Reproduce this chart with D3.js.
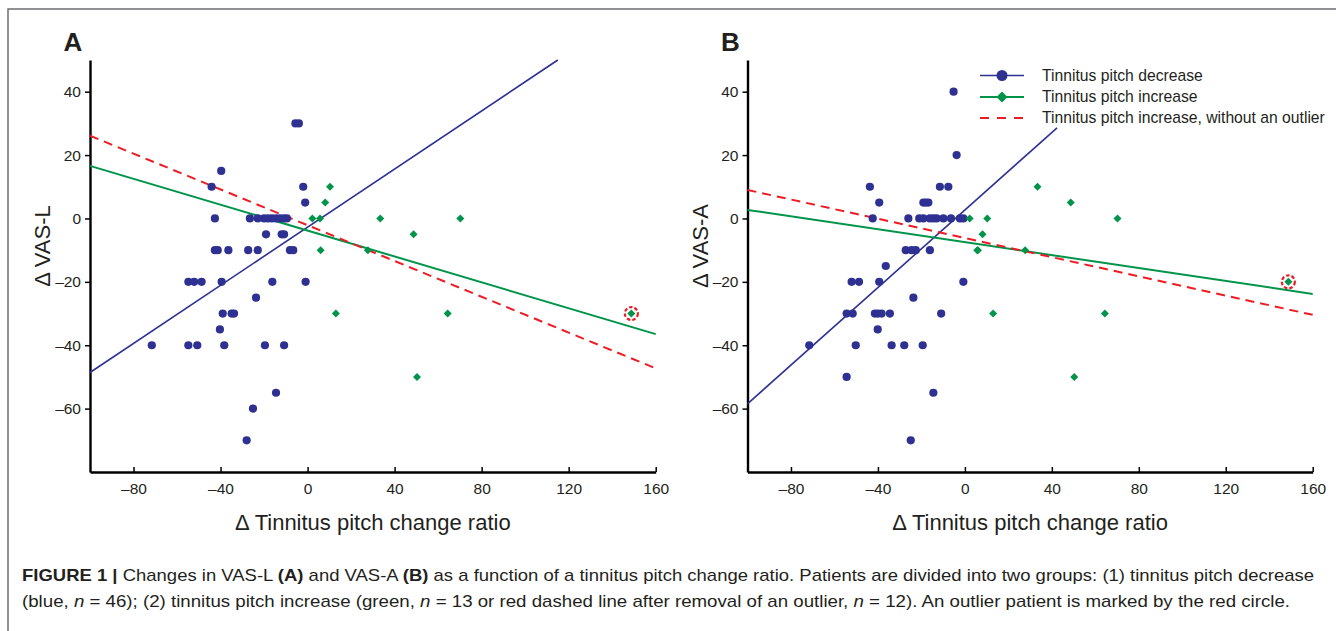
<!DOCTYPE html>
<html>
<head>
<meta charset="utf-8">
<script src="https://cdn.jsdelivr.net/npm/d3@7"></script>
<style>
  html, body { margin: 0; padding: 0; background: #fff; }
  svg { display: block; }
</style>
</head>
<body>
<svg id="chart" width="1336" height="631"></svg>
<script>
// ---------------- DATA ----------------
const xTicks = [-80, -40, 0, 40, 80, 120, 160];
const yTicks = [-60, -40, -20, 0, 20, 40];
const xDomain = [-100, 160];
const yDomain = [-80, 50];

// Panel A (VAS-L), tinnitus pitch decrease group
const blueAx = [-5.6, -4.0, -39.7, -44.1, -2.0, -1.1,
  -42.6, -26.5, -22.9, -20.0, -18.2, -16.4, -14.5, -12.7, -10.9, -9.5,
  -19.1, -11.9, -10.8,
  -42.6, -41.3, -36.4, -27.3, -22.9, -8.1, -6.6,
  -54.8, -52.1, -48.7, -39.5, -16.2, -0.9,
  -23.7, -39.0, -34.9, -33.8, -40.3,
  -71.6, -54.8, -50.7, -38.3, -19.6, -10.8,
  -14.5, -25.1, -28.0];
const blueAy = [30, 30, 15, 10, 10, 5,
  0, 0, 0, 0, 0, 0, 0, 0, 0, 0,
  -5, -5, -5,
  -10, -10, -10, -10, -10, -10, -10,
  -20, -20, -20, -20, -20, -20,
  -25, -30, -30, -30, -35,
  -40, -40, -40, -40, -40, -40,
  -55, -60, -70];

// Panel B (VAS-A), tinnitus pitch decrease group
const blueBx = [-5.2, -3.8, -43.7, -11.5, -7.6,
  -39.4, -19.1, -16.8, -18.0,
  -42.4, -26.0, -21.0, -19.1, -16.1, -14.5, -13.0, -9.9, -6.4, -2.3, -0.7,
  -27.2, -24.5, -22.6, -16.1,
  -36.4, -52.1, -48.7, -39.4, -0.7, -23.7,
  -54.4, -51.6, -41.4, -40.0, -38.3, -34.5, -10.9,
  -40.1, -71.6, -50.2, -33.7, -27.9, -19.4,
  -54.4, -14.5, -24.9];
const blueBy = [40, 20, 10, 10, 10,
  5, 5, 5, 5,
  0, 0, 0, 0, 0, 0, 0, 0, 0, 0, 0,
  -10, -10, -10, -10,
  -15, -20, -20, -20, -20, -25,
  -30, -30, -30, -30, -30, -30, -30,
  -35, -40, -40, -40, -40, -40,
  -50, -55, -70];

// Tinnitus pitch increase group (same patients in both panels)
const greenX  = [2.2, 5.7, 6.0, 8.1, 10.3, 13.0, 27.7, 33.4, 48.7, 50.3, 64.4, 70.2, 148.8];
const greenAy = [0, 0, -10, 5, 10, -30, -10, 0, -5, -50, -30, 0, -30];
const greenBy = [0, -10, -10, -5, 0, -30, -10, 10, 5, -50, -30, 0, -20];
const outlierIndex = 12;

// Regression lines [x0, x1] -> [y0, y1]
const lineA_blueX = [-100, 115],   lineA_blueY = [-48.6, 50];
const lineA_greenX = [-100, 160],  lineA_greenY = [16.6, -36.5];
const lineA_redX = [-100, 160],    lineA_redY = [26.1, -47.3];
const lineB_blueX = [-100, 42.4],  lineB_blueY = [-58.5, 28.6];
const lineB_greenX = [-100, 160],  lineB_greenY = [2.7, -23.8];
const lineB_redX = [-100, 160],    lineB_redY = [9.0, -30.4];

const legendLabels = ["Tinnitus pitch decrease", "Tinnitus pitch increase", "Tinnitus pitch increase, without an outlier"];
const yTitles = ["\u0394 VAS-L", "\u0394 VAS-A"];
const xTitle = "\u0394 Tinnitus pitch change ratio";
const panelLetters = ["A", "B"];

// ---------------- STYLE ----------------
const BLUE = "#2e3192", GREEN = "#00944a", RED = "#ed1c24", INK = "#231f20";
const FONT = "'Liberation Sans', Arial, Helvetica, sans-serif";
const NARROW = "'Liberation Sans Narrow', 'Arial Narrow', 'Liberation Sans', sans-serif";

const svg = d3.select("#chart");

// outer frame
svg.append("path").attr("d", "M8,631 L8,9 L1336,9")
  .attr("fill", "none").attr("stroke", "#6d6e71").attr("stroke-width", 1.5);

const fmt = d => (d < 0 ? "\u2013" + Math.abs(d) : String(d));

const panels = [
  { left: 90, right: 655.7, bx: blueAx, by: blueAy, gy: greenAy,
    lines: [[lineA_blueX, lineA_blueY, BLUE, 1.6, null],
            [lineA_greenX, lineA_greenY, GREEN, 2, null],
            [lineA_redX, lineA_redY, RED, 2, "9,6"]] },
  { left: 747.5, right: 1312.7, bx: blueBx, by: blueBy, gy: greenBy,
    lines: [[lineB_blueX, lineB_blueY, BLUE, 1.6, null],
            [lineB_greenX, lineB_greenY, GREEN, 2, null],
            [lineB_redX, lineB_redY, RED, 2, "9,6"]] }
];
const plotTop = 60, plotBottom = 472;

panels.forEach((p, i) => {
  const x = d3.scaleLinear().domain(xDomain).range([p.left, p.right]);
  const y = d3.scaleLinear().domain(yDomain).range([plotBottom, plotTop]);
  const g = svg.append("g");

  // y axis
  const ya = g.append("g").attr("transform", `translate(${p.left},0)`)
    .call(d3.axisLeft(y).tickValues(yTicks).tickSize(5).tickSizeOuter(0).tickPadding(4).tickFormat(fmt));
  ya.select(".domain").attr("stroke", "#000").attr("stroke-width", 2.4);
  ya.selectAll(".tick line").attr("stroke", "#000").attr("stroke-width", 1.5);
  ya.selectAll(".tick text").attr("font-family", FONT).attr("font-size", 15.5).attr("fill", INK);

  // x axis (ticks pointing inward)
  const xa = g.append("g").attr("transform", `translate(0,${plotBottom})`)
    .call(d3.axisBottom(x).tickValues(xTicks).tickSize(0).tickSizeOuter(0).tickPadding(11).tickFormat(fmt));
  xa.select(".domain").attr("stroke", "#000").attr("stroke-width", 2.4);
  xa.selectAll(".tick line").attr("y2", -5).attr("stroke", "#000").attr("stroke-width", 1.5);
  xa.selectAll(".tick text").attr("font-family", FONT).attr("font-size", 15.5).attr("fill", INK);

  // titles
  g.append("text").attr("x", (p.left + p.right) / 2).attr("y", 530)
    .attr("text-anchor", "middle").attr("font-family", FONT).attr("font-size", 22)
    .attr("fill", INK).text(xTitle);
  g.append("text").attr("transform", `translate(${p.left - 40},${246}) rotate(-90)`)
    .attr("text-anchor", "middle").attr("font-family", FONT).attr("font-size", 22)
    .attr("fill", INK).text(yTitles[i]);
  g.append("text").attr("x", p.left - 17).attr("y", 51)
    .attr("text-anchor", "middle").attr("font-family", NARROW).attr("font-weight", "bold")
    .attr("font-size", 26).attr("fill", INK).text(panelLetters[i]);

  // lines
  p.lines.forEach(([lx, ly, col, w, dash]) => {
    const pts = lx.map((v, k) => [x(v), y(ly[k])]);
    const l = g.append("path").attr("d", d3.line()(pts))
      .attr("fill", "none").attr("stroke", col).attr("stroke-width", w);
    if (dash) l.attr("stroke-dasharray", dash);
  });

  // blue points
  g.append("g").selectAll("circle").data(p.bx.map((v, k) => [v, p.by[k]])).join("circle")
    .attr("cx", d => x(d[0])).attr("cy", d => y(d[1])).attr("r", 4.1).attr("fill", BLUE);

  // green diamonds
  const dia = 4;
  g.append("g").selectAll("path").data(greenX.map((v, k) => [v, p.gy[k]])).join("path")
    .attr("d", d => { const cx = x(d[0]), cy = y(d[1]);
      return `M${cx},${cy - dia}L${cx + dia},${cy}L${cx},${cy + dia}L${cx - dia},${cy}Z`; })
    .attr("fill", GREEN);

  // outlier marker
  g.append("circle").attr("cx", x(greenX[outlierIndex])).attr("cy", y(p.gy[outlierIndex]))
    .attr("r", 6.5).attr("fill", "none").attr("stroke", RED).attr("stroke-width", 2.2)
    .attr("stroke-dasharray", "3.5,2");
});

// legend
const lg = svg.append("g");
const lgY = [75.5, 97, 118];
const lgX0 = 980, lgX1 = 1024, lgT = 1042;
lg.append("line").attr("x1", lgX0).attr("x2", lgX1).attr("y1", lgY[0]).attr("y2", lgY[0]).attr("stroke", BLUE).attr("stroke-width", 1.6);
lg.append("circle").attr("cx", (lgX0 + lgX1) / 2).attr("cy", lgY[0]).attr("r", 5.5).attr("fill", BLUE);
lg.append("line").attr("x1", lgX0).attr("x2", lgX1).attr("y1", lgY[1]).attr("y2", lgY[1]).attr("stroke", GREEN).attr("stroke-width", 2);
{ const cx = (lgX0 + lgX1) / 2, cy = lgY[1], s = 5.5;
  lg.append("path").attr("d", `M${cx},${cy - s}L${cx + s},${cy}L${cx},${cy + s}L${cx - s},${cy}Z`).attr("fill", GREEN); }
lg.append("line").attr("x1", lgX0).attr("x2", lgX1).attr("y1", lgY[2]).attr("y2", lgY[2]).attr("stroke", RED).attr("stroke-width", 2).attr("stroke-dasharray", "9,8");
legendLabels.forEach((t, k) => {
  lg.append("text").attr("x", lgT).attr("y", lgY[k] + 5).attr("font-family", FONT)
    .attr("font-size", 15.7).attr("fill", INK).text(t);
});

// caption
const cap = svg.append("g").attr("font-family", NARROW).attr("font-size", 17).attr("fill", INK);
const l1 = cap.append("text").attr("x", 22).attr("y", 581)
  .attr("textLength", 1292).attr("lengthAdjust", "spacingAndGlyphs");
l1.append("tspan").attr("font-weight", "bold").text("FIGURE 1 | ");
l1.append("tspan").text("Changes in VAS-L ");
l1.append("tspan").attr("font-weight", "bold").text("(A)");
l1.append("tspan").text(" and VAS-A ");
l1.append("tspan").attr("font-weight", "bold").text("(B)");
l1.append("tspan").text(" as a function of a tinnitus pitch change ratio. Patients are divided into two groups: (1) tinnitus pitch decrease");
const l2 = cap.append("text").attr("x", 22).attr("y", 607)
  .attr("textLength", 1268).attr("lengthAdjust", "spacingAndGlyphs");
l2.append("tspan").text("(blue, ");
l2.append("tspan").attr("font-style", "italic").text("n");
l2.append("tspan").text(" = 46); (2) tinnitus pitch increase (green, ");
l2.append("tspan").attr("font-style", "italic").text("n");
l2.append("tspan").text(" = 13 or red dashed line after removal of an outlier, ");
l2.append("tspan").attr("font-style", "italic").text("n");
l2.append("tspan").text(" = 12). An outlier patient is marked by the red circle.");
</script>
</body>
</html>
